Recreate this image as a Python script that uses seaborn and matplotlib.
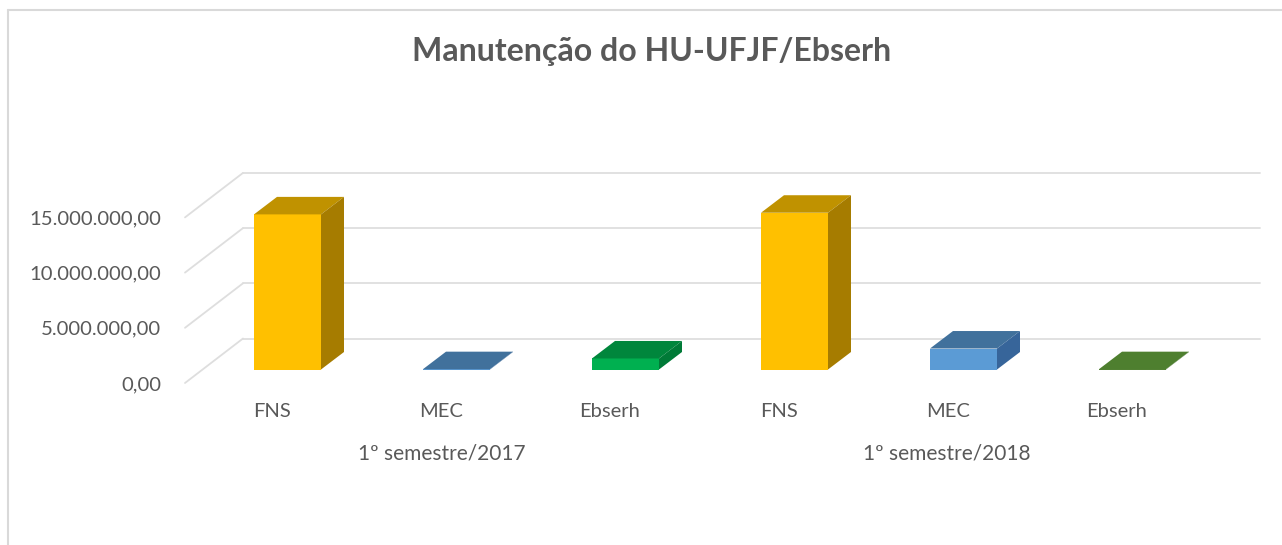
import matplotlib
matplotlib.use('Agg')
import pandas as pd
import matplotlib.pyplot as plt
import seaborn as sns
from matplotlib.lines import Line2D

sns.set_theme(style='white')
plt.rcParams['font.family'] = ['Lato', 'DejaVu Sans']

# dados
barras = ['FNS 2017', 'MEC 2017', 'Ebserh 2017', 'FNS 2018', 'MEC 2018', 'Ebserh 2018']
fontes = ['FNS', 'MEC', 'Ebserh', 'FNS', 'MEC', 'Ebserh']
valores = [14050000, 30000, 1000000, 14200000, 1900000, 30000]
semestres = ['1º semestre/2017', '1º semestre/2018']
marcas_y = [0, 5000000, 10000000, 15000000]
rotulos_y = ['0,00', '5.000.000,00', '10.000.000,00', '15.000.000,00']

cor_frente = ['#FFC000', '#5B9BD5', '#00B050', '#FFC000', '#5B9BD5', '#548235']
cor_topo = ['#C09200', '#41719C', '#00863C', '#C09200', '#41719C', '#4E7F2F']
cor_lado = ['#A67C00', '#37659A', '#007A37', '#A67C00', '#37659A', '#3F6B26']

L, A = 1282, 545
fig = plt.figure(figsize=(L / 100, A / 100), dpi=100)
ax = fig.add_axes([185 / L, 1 - 383 / A, (1260 - 185) / L, (383 - 150) / A])

# conversao de pixels para unidades de dados
px_x = 1 / 169
px_y = 5000000 / 55.2
base = 13.5 * px_y

df = pd.DataFrame({'barra': barras, 'valor': valores})
sns.barplot(data=df, x='barra', y='valor', hue='barra', palette=cor_frente, legend=False,
            dodge=False, width=67 / 169, bottom=base, linewidth=0, saturation=1, ax=ax, zorder=4)

# o barplot mexe nos limites, entao fixa depois dele
x0 = (185 - 287.5) / 169
x1 = (1260 - 287.5) / 169
ax.set_xlim(x0, x1)
ax.set_ylim(0, 233 / 55.2 * 5000000)

# grade: parede do fundo e diagonal do piso
cor_grade = '#DEDEDE'
fundo_x = 58 * px_x
fundo_y = 44.5 * px_y
for v in marcas_y:
    ax.plot([x0, x0 + fundo_x], [v, v + fundo_y], color=cor_grade, lw=1.3, zorder=1, clip_on=False)
    ax.plot([x0 + fundo_x, x1], [v + fundo_y, v + fundo_y], color=cor_grade, lw=1.3, zorder=1, clip_on=False)

# faces de topo e lado de cada barra
prof_x = 23 * px_x
prof_y = 17.5 * px_y
for i, p in enumerate(ax.patches):
    xa = p.get_x()
    xb = xa + p.get_width()
    yb = p.get_y()
    yt = yb + p.get_height()
    ax.fill([xa, xb, xb + prof_x, xa + prof_x], [yt, yt, yt + prof_y, yt + prof_y],
            color=cor_topo[i], lw=0, zorder=5)
    ax.fill([xb, xb + prof_x, xb + prof_x, xb], [yb, yb + prof_y, yt + prof_y, yt],
            color=cor_lado[i], lw=0, zorder=5)

ax.set_xlim(x0, x1)
ax.set_ylim(0, 233 / 55.2 * 5000000)

sns.despine(ax=ax, left=True, bottom=True)
ax.set_xlabel('')
ax.set_ylabel('')
ax.set_yticks(marcas_y)
ax.set_yticklabels(rotulos_y, fontsize=14.6, color='#595959')
ax.tick_params(axis='y', length=0, pad=17)

ax.set_xticks([i - 15.5 / 169 for i in range(len(fontes))])
ax.set_xticklabels(fontes, fontsize=14.5, color='#595959')
ax.tick_params(axis='x', length=0, pad=14.5)

for i, s in enumerate(semestres):
    ax.text((442 + 505 * i - 287.5) / 169, -70 * px_y, s, ha='center', va='center',
            fontsize=15, color='#595959')

fig.text(652 / L, 1 - 52 / A, 'Manutenção do HU-UFJF/Ebserh', ha='center', va='center',
         fontsize=23, fontweight='bold', color='#595959')

# moldura do grafico
fig.add_artist(Line2D([8 / L, 8 / L], [0, 1 - 10 / A], color='#D9D9D9', lw=1.5))
fig.add_artist(Line2D([8 / L, 1], [1 - 10 / A, 1 - 10 / A], color='#D9D9D9', lw=1.5))

plt.savefig('out.png', dpi=100)
